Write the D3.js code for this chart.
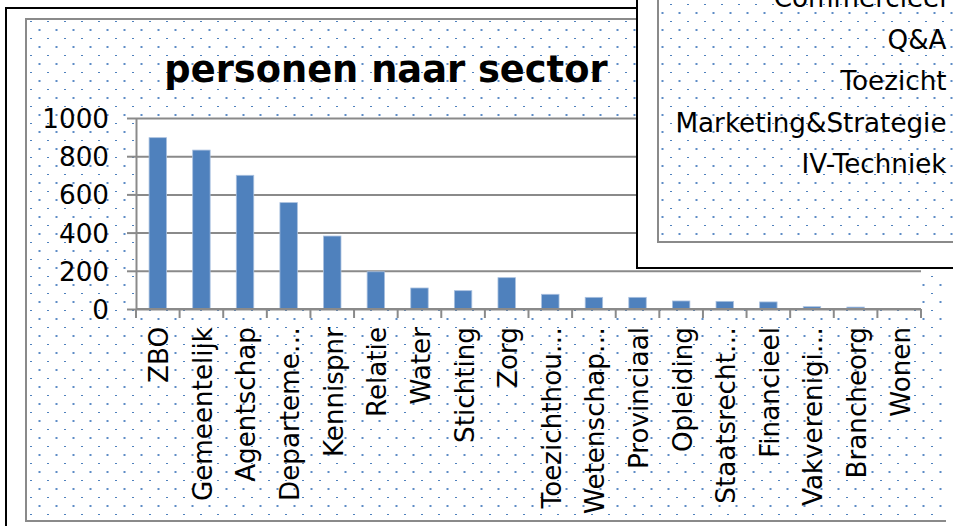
<!DOCTYPE html>
<html>
<head>
<meta charset="utf-8">
<script src="https://cdn.jsdelivr.net/npm/d3@7/dist/d3.min.js"></script>
<style>
   body { margin: 0; background: #ffffff; }
   svg { display: block; font-family: 'DejaVu Sans', Verdana, sans-serif; }
</style>
</head>
<body>
<svg id="svg"></svg>
<script>
let categories = ['ZBO', 'Gemeentelijk', 'Agentschap', 'Departeme…', 'Kennispnr', 'Relatie',
   'Water', 'Stichting', 'Zorg', 'Toezichthou…', 'Wetenschap…', 'Provinciaal',
   'Opleiding', 'Staatsrecht…', 'Financieel', 'Vakverenigi…', 'Brancheorg', 'Wonen'];
let values = [897, 832, 700, 557, 382, 195, 110, 96, 164, 77, 61, 61, 42, 40, 37, 12, 10, 0];
let yTicks = [0, 200, 400, 600, 800, 1000];
let title = 'personen naar sector';
// category labels of the chart lying on top, cut off by the window
let overlayLabels = ['Commercieel', 'Q&A', 'Toezicht', 'Marketing&Strategie', 'IV-Techniek'];

let config = {
   width: 953,
   height: 526,
   plotLeft: 136,
   plotRight: 921,
   plotTop: 118,
   plotBottom: 309,
   barColor: '#4f81bd',
   lineColor: '#8a8a8a',
   dotColor: '#4f81bd',
   fontSize: 26.2
};

let svg = d3.select('#svg')
   .attr('width', config.width)
   .attr('height', config.height);

let defs = svg.append('defs');

function addDots(id, dx) {
   let p = defs.append('pattern')
      .attr('id', id)
      .attr('patternUnits', 'userSpaceOnUse')
      .attr('width', 17)
      .attr('height', 17)
      .attr('patternTransform', 'translate(' + dx + ',0)');
   p.append('rect').attr('x', 13).attr('y', 4).attr('width', 2).attr('height', 1)
      .attr('fill', config.dotColor);
   p.append('rect').attr('x', 4.5).attr('y', 12).attr('width', 2).attr('height', 2)
      .attr('fill', '#5d8cc6');
}
addDots('dots', 0);
addDots('dots2', -6);

// outer frame
svg.append('rect')
   .attr('x', 6).attr('y', 8)
   .attr('width', 1000).attr('height', 600)
   .style('fill', '#ffffff')
   .style('stroke', '#000000')
   .style('stroke-width', 2);

// chart area
svg.append('rect')
   .attr('x', 26).attr('y', 19)
   .attr('width', 921).attr('height', 502)
   .style('fill', 'url(#dots)');
svg.append('path')
   .attr('d', 'M946,19H26V521H946')
   .style('fill', 'none')
   .style('stroke', config.lineColor)
   .style('stroke-width', 2);

svg.append('text')
   .attr('x', 386).attr('y', 82)
   .attr('text-anchor', 'middle')
   .style('font-size', '36.8px')
   .style('font-weight', 'bold')
   .text(title);

let x = d3.scaleBand()
   .domain(categories)
   .range([config.plotLeft, config.plotRight])
   .paddingInner(0.6)
   .paddingOuter(0.3);

let y = d3.scaleLinear()
   .domain([0, 1000])
   .range([config.plotBottom, config.plotTop]);

svg.append('rect')
   .attr('x', config.plotLeft).attr('y', config.plotTop)
   .attr('width', config.plotRight - config.plotLeft)
   .attr('height', config.plotBottom - config.plotTop)
   .style('fill', '#ffffff');

// gridlines
let grid = svg.append('g')
   .attr('transform', 'translate(' + config.plotLeft + ',0)')
   .call(d3.axisLeft(y).tickValues(yTicks).tickSize(-(config.plotRight - config.plotLeft)).tickFormat(''));
grid.select('.domain').remove();
grid.selectAll('line').style('stroke', config.lineColor).style('stroke-width', 2);

let yAxis = svg.append('g')
   .attr('transform', 'translate(' + config.plotLeft + ',0)')
   .call(d3.axisLeft(y).tickValues(yTicks).tickFormat(d3.format('d'))
      .tickSizeInner(9).tickSizeOuter(0).tickPadding(18));
yAxis.select('.domain').style('stroke', config.lineColor).style('stroke-width', 2);
yAxis.selectAll('line').style('stroke', config.lineColor).style('stroke-width', 2);
yAxis.selectAll('text')
   .style('font-size', config.fontSize + 'px')
   .style('font-family', "'DejaVu Sans', Verdana, sans-serif")
   .attr('dy', '0.36em')
   .style('fill', '#000000');

svg.selectAll('.bar')
   .data(values)
   .enter()
   .append('rect')
   .attr('class', 'bar')
   .attr('x', (d, i) => x(categories[i]))
   .attr('y', d => y(d))
   .attr('width', x.bandwidth())
   .attr('height', d => y(0) - y(d))
   .style('fill', config.barColor)
   .style('stroke', '#a9c0df')
   .style('stroke-width', 0.8);

// x axis with ticks between categories
let xAxis = svg.append('g')
   .attr('transform', 'translate(0,' + config.plotBottom + ')')
   .call(d3.axisBottom(x).tickSize(0).tickPadding(0));
xAxis.select('.domain').remove();
xAxis.append('line')
   .attr('x1', config.plotLeft).attr('x2', config.plotRight)
   .style('stroke', config.lineColor)
   .style('stroke-width', 2);
let bounds = categories.map(c => x(c) - x.step() * x.paddingInner() / 2).concat([config.plotRight]);
xAxis.selectAll('.sep')
   .data(bounds)
   .enter()
   .append('line')
   .attr('class', 'sep')
   .attr('x1', d => d).attr('x2', d => d)
   .attr('y1', 0).attr('y2', 9)
   .style('stroke', config.lineColor)
   .style('stroke-width', 2);
xAxis.selectAll('.tick text')
   .style('font-size', config.fontSize + 'px')
   .style('font-family', "'DejaVu Sans', Verdana, sans-serif")
   .style('fill', '#000000')
   .attr('text-anchor', 'end')
   .attr('x', 0)
   .attr('y', 0)
   .attr('dy', '0.36em')
   .attr('transform', 'translate(1,18) rotate(-90)');

// chart lying over the top right corner
let over = svg.append('g');
over.append('rect')
   .attr('x', 637).attr('y', -10)
   .attr('width', 400).attr('height', 278)
   .style('fill', '#ffffff')
   .style('stroke', '#000000')
   .style('stroke-width', 2);
over.append('rect')
   .attr('x', 658).attr('y', -10)
   .attr('width', 400).attr('height', 252)
   .style('fill', 'url(#dots2)')
   .style('stroke', config.lineColor)
   .style('stroke-width', 2);

let oy = d3.scalePoint()
   .domain(overlayLabels)
   .range([7, 173]);
over.selectAll('.olabel')
   .data(overlayLabels)
   .enter()
   .append('text')
   .attr('class', 'olabel')
   .attr('x', 946.5)
   .attr('y', d => oy(d))
   .attr('text-anchor', 'end')
   .style('font-size', config.fontSize + 'px')
   .text(d => d);
</script>
</body>
</html>
